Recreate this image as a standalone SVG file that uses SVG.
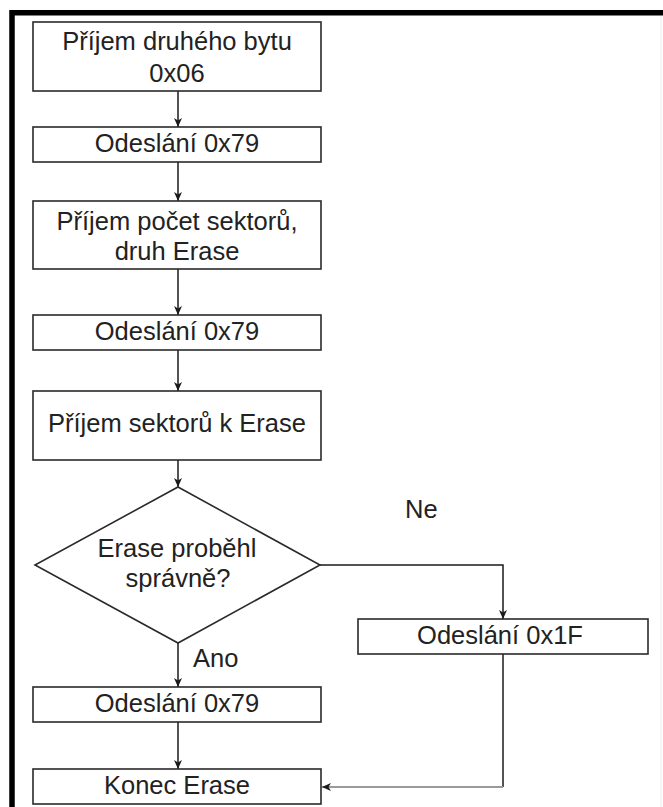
<svg xmlns="http://www.w3.org/2000/svg" width="663" height="807" viewBox="0 0 663 807">
  <style>
    .box { fill: #ffffff; stroke: #2a2a2a; stroke-width: 1.6; }
    .lbl { font-family: "Liberation Sans", Arial, sans-serif; font-size: 25.5px; fill: #222222; text-anchor: middle; }
    .tag { font-family: "Liberation Sans", Arial, sans-serif; font-size: 25.5px; fill: #222222; }
    .wire { fill: none; stroke: #1a1a1a; stroke-width: 1.5; }
    .wire-light { fill: none; stroke: #9a9a9a; stroke-width: 2; }
  </style>
  <defs>
    <marker id="arrow" markerUnits="userSpaceOnUse" markerWidth="10" markerHeight="9" refX="9" refY="4.5" orient="auto">
      <path d="M0,0.5 L9,4.5 L0,8.5 L2.5,4.5 z" fill="#1a1a1a"/>
    </marker>
  </defs>

  <rect width="663" height="807" fill="#ffffff"/>

  <!-- outer frame -->
  <path d="M12,807 V12.7 H663" fill="none" stroke="#000000" stroke-width="5.5"/>
  <line x1="661" y1="16" x2="661" y2="807" stroke="#ececec" stroke-width="1"/>

  <!-- connectors -->
  <g id="connectors">
    <path class="wire" d="M178,91 V127" marker-end="url(#arrow)"/>
    <path class="wire" d="M178,162 V201" marker-end="url(#arrow)"/>
    <path class="wire" d="M178,269 V315" marker-end="url(#arrow)"/>
    <path class="wire" d="M178,350 V391" marker-end="url(#arrow)"/>
    <path class="wire" d="M178,460 V487" marker-end="url(#arrow)"/>
    <path class="wire" d="M178,643 V687" marker-end="url(#arrow)"/>
    <path class="wire" d="M178,722 V769" marker-end="url(#arrow)"/>
    <path class="wire" d="M320,565 H503 V619" marker-end="url(#arrow)"/>
    <path class="wire" d="M503,654 V787"/>
    <path class="wire-light" d="M503,787 H322" marker-end="url(#arrow)"/>
    <text class="tag" x="405" y="518">Ne</text>
    <text class="tag" x="193" y="667">Ano</text>
  </g>

  <g id="n1">
    <rect class="box" x="33" y="22" width="288" height="69"/>
    <text class="lbl" x="177" y="50">Příjem druhého bytu</text>
    <text class="lbl" x="177" y="82">0x06</text>
  </g>

  <g id="n2">
    <rect class="box" x="33" y="127" width="288" height="35"/>
    <text class="lbl" x="177" y="152">Odeslání 0x79</text>
  </g>

  <g id="n3">
    <rect class="box" x="33" y="201" width="288" height="68"/>
    <text class="lbl" x="177" y="230">Příjem počet sektorů,</text>
    <text class="lbl" x="177" y="260">druh Erase</text>
  </g>

  <g id="n4">
    <rect class="box" x="33" y="315" width="288" height="35"/>
    <text class="lbl" x="177" y="340">Odeslání 0x79</text>
  </g>

  <g id="n5">
    <rect class="box" x="33" y="391" width="288" height="69"/>
    <text class="lbl" x="177" y="432">Příjem sektorů k Erase</text>
  </g>

  <g id="decision">
    <polygon class="box" points="178,487 320,565 178,643 35,565"/>
    <text class="lbl" x="177" y="557">Erase proběhl</text>
    <text class="lbl" x="178" y="587">správně?</text>
  </g>

  <g id="n6">
    <rect class="box" x="33" y="687" width="288" height="35"/>
    <text class="lbl" x="177" y="712">Odeslání 0x79</text>
  </g>

  <g id="n7">
    <rect class="box" x="33" y="769" width="288" height="35"/>
    <text class="lbl" x="177" y="794">Konec Erase</text>
  </g>

  <g id="n8">
    <rect class="box" x="358" y="619" width="290" height="35"/>
    <text class="lbl" x="500" y="644">Odeslání 0x1F</text>
  </g>
</svg>
